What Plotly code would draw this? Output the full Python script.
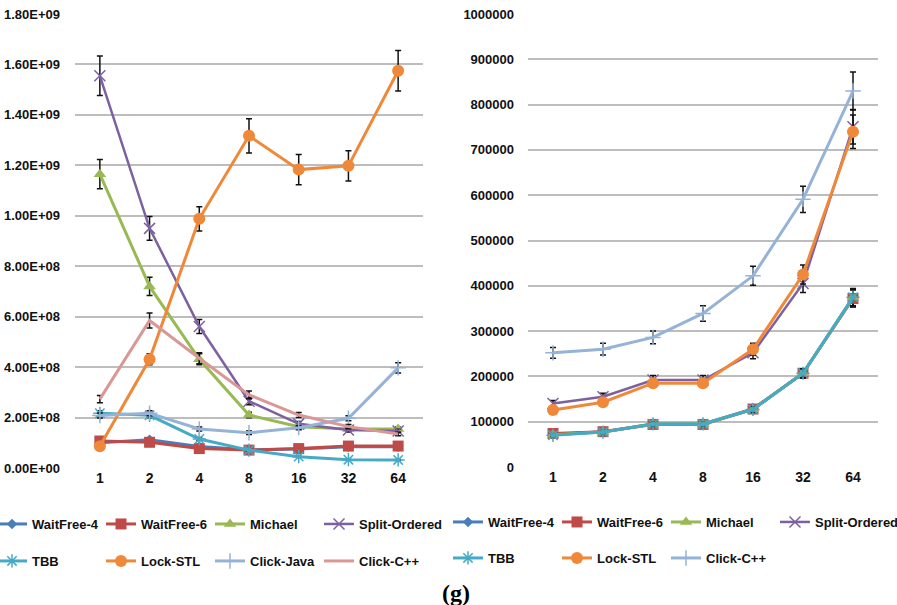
import plotly.graph_objects as go

threads = ["1", "2", "4", "8", "16", "32", "64"]

# ---------- left chart (values) ----------
L_waitfree4 = [1.00e8, 1.12e8, 0.85e8, 0.72e8, 0.75e8, 0.84e8, 0.84e8]
L_waitfree6 = [1.07e8, 1.02e8, 0.77e8, 0.71e8, 0.77e8, 0.87e8, 0.87e8]
L_michael = [11.65e8, 7.20e8, 4.31e8, 2.10e8, 1.64e8, 1.55e8, 1.55e8]
L_split = [15.55e8, 9.50e8, 5.61e8, 2.65e8, 1.75e8, 1.51e8, 1.47e8]
L_tbb = [2.17e8, 2.09e8, 1.15e8, 0.71e8, 0.45e8, 0.33e8, 0.32e8]
L_lock = [0.86e8, 4.31e8, 9.88e8, 13.17e8, 11.83e8, 11.98e8, 15.75e8]
L_clickjava = [2.08e8, 2.17e8, 1.55e8, 1.40e8, 1.60e8, 1.97e8, 3.97e8]
L_clickcpp = [2.73e8, 5.85e8, 4.35e8, 2.90e8, 2.10e8, 1.64e8, 1.35e8]

L_err_waitfree4 = [0.05e8, 0.05e8, 0.04e8, 0.04e8, 0.04e8, 0.04e8, 0.04e8]
L_err_waitfree6 = [0.05e8, 0.05e8, 0.04e8, 0.04e8, 0.04e8, 0.04e8, 0.04e8]
L_err_michael = [0.58e8, 0.36e8, 0.22e8, 0.11e8, 0.08e8, 0.08e8, 0.08e8]
L_err_split = [0.78e8, 0.47e8, 0.28e8, 0.14e8, 0.09e8, 0.08e8, 0.07e8]
L_err_tbb = [0.10e8, 0.10e8, 0.06e8, 0.04e8, 0.02e8, 0.02e8, 0.02e8]
L_err_lock = [0.05e8, 0.22e8, 0.48e8, 0.68e8, 0.60e8, 0.60e8, 0.80e8]
L_err_clickjava = [0.10e8, 0.10e8, 0.08e8, 0.07e8, 0.08e8, 0.10e8, 0.20e8]
L_err_clickcpp = [0.14e8, 0.30e8, 0.22e8, 0.15e8, 0.10e8, 0.08e8, 0.07e8]

L_tickvals = [0, 2e8, 4e8, 6e8, 8e8, 10e8, 12e8, 14e8, 16e8, 18e8]
L_ticktext = ["0.00E+00", "2.00E+08", "4.00E+08", "6.00E+08", "8.00E+08",
              "1.00E+09", "1.20E+09", "1.40E+09", "1.60E+09", "1.80E+09"]

# ---------- right chart (values) ----------
R_waitfree4 = [72000, 78000, 95000, 95000, 128000, 207000, 373000]
R_waitfree6 = [74000, 78000, 94000, 94000, 128000, 207000, 372000]
R_michael = [71000, 77000, 95000, 95000, 127000, 207000, 374000]
R_split = [140000, 155000, 192000, 192000, 252000, 405000, 751000]
R_tbb = [70000, 77000, 95000, 95000, 127000, 207000, 375000]
R_lock = [126000, 143000, 185000, 185000, 260000, 425000, 740000]
R_clickcpp = [252000, 260000, 286000, 339000, 422000, 591000, 830000]

R_err_waitfree4 = [4000, 4000, 5000, 5000, 6000, 10000, 19000]
R_err_waitfree6 = [4000, 4000, 5000, 5000, 6000, 10000, 19000]
R_err_michael = [4000, 4000, 5000, 5000, 6000, 10000, 19000]
R_err_split = [7000, 8000, 10000, 10000, 13000, 20000, 38000]
R_err_tbb = [4000, 4000, 5000, 5000, 6000, 10000, 19000]
R_err_lock = [6000, 7000, 9000, 9000, 13000, 21000, 37000]
R_err_clickcpp = [12000, 13000, 14000, 17000, 21000, 29000, 42000]

R_tickvals = [0, 100000, 200000, 300000, 400000, 500000, 600000, 700000, 800000, 900000, 1000000]

FONT = "Liberation Sans, Arial, sans-serif"

C_WF4 = "#4A7EBB"
C_WF6 = "#BE4B48"
C_MICH = "#98B954"
C_SPLIT = "#7D60A0"
C_TBB = "#46AAC5"
C_LOCK = "#F0883A"
C_CJAVA = "#95B3D7"
C_CCPP = "#D99795"

fig = go.Figure()


def add(x, y, err, name, color, symbol, size, xa, ya, legend, width=3, mode="lines+markers",
        legendwidth=None):
    thin = symbol in ("x-thin", "cross-thin", "asterisk")
    marker = dict(symbol=symbol, size=size, color=color)
    if thin:
        marker["line"] = dict(color=color, width=1.5)
    kw = {}
    if legendwidth is not None:
        kw["legendwidth"] = legendwidth
    fig.add_trace(go.Scatter(
        x=x, y=y, name=name, mode=mode,
        line=dict(color=color, width=width),
        marker=marker,
        error_y=dict(type="data", array=err, visible=True, color="#111111",
                     thickness=1.5, width=3),
        xaxis=xa, yaxis=ya, legend=legend, **kw,
    ))


# left chart
add(threads, L_waitfree4, L_err_waitfree4, "WaitFree-4", C_WF4, "diamond", 8, "x", "y", "legend")
add(threads, L_waitfree6, L_err_waitfree6, "WaitFree-6", C_WF6, "square", 11, "x", "y", "legend")
add(threads, L_michael, L_err_michael, "Michael", C_MICH, "triangle-up", 11, "x", "y", "legend")
add(threads, L_split, L_err_split, "Split-Ordered", C_SPLIT, "x-thin", 11, "x", "y", "legend",
    width=2.5, legendwidth=90)
add(threads, L_tbb, L_err_tbb, "TBB", C_TBB, "asterisk", 11, "x", "y", "legend2")
add(threads, L_lock, L_err_lock, "Lock-STL", C_LOCK, "circle", 12, "x", "y", "legend2")
add(threads, L_clickjava, L_err_clickjava, "Click-Java", C_CJAVA, "cross-thin", 11, "x", "y", "legend2")
add(threads, L_clickcpp, L_err_clickcpp, "Click-C++", C_CCPP, "circle", 1, "x", "y", "legend2",
    mode="lines", legendwidth=90)

# right chart
add(threads, R_waitfree4, R_err_waitfree4, "WaitFree-4", C_WF4, "diamond", 8, "x2", "y2", "legend3")
add(threads, R_waitfree6, R_err_waitfree6, "WaitFree-6", C_WF6, "square", 11, "x2", "y2", "legend3")
add(threads, R_michael, R_err_michael, "Michael", C_MICH, "triangle-up", 11, "x2", "y2", "legend3")
add(threads, R_split, R_err_split, "Split-Ordered", C_SPLIT, "x-thin", 11, "x2", "y2", "legend3",
    width=2.5, legendwidth=90)
add(threads, R_tbb, R_err_tbb, "TBB", C_TBB, "asterisk", 11, "x2", "y2", "legend4")
add(threads, R_lock, R_err_lock, "Lock-STL", C_LOCK, "circle", 12, "x2", "y2", "legend4")
add(threads, R_clickcpp, R_err_clickcpp, "Click-C++", C_CJAVA, "cross-thin", 11, "x2", "y2", "legend4",
    legendwidth=90)

W, H = 897, 605


def px(v):
    return v / W


def py(v):
    return (H - v) / H


tickfont = dict(family=FONT, size=13, color="#111111", weight="bold")
xfont = dict(family=FONT, size=14, color="#111111", weight="bold")
grid = dict(showgrid=True, gridcolor="#BDBDBD", gridwidth=1.5, zeroline=False, showline=False,
            automargin=False)

legend_common = dict(orientation="h", font=dict(family=FONT, size=13, color="#111111", weight="bold"),
                     bgcolor="rgba(0,0,0,0)", borderwidth=0, entrywidth=64,
                     yanchor="middle", tracegroupgap=0, itemwidth=30)

fig.update_layout(
    width=W, height=H,
    margin=dict(l=0, r=0, t=0, b=0, autoexpand=False),
    paper_bgcolor="white", plot_bgcolor="white",
    showlegend=True,
    xaxis=dict(domain=[px(75), px(423)], type="category", range=[-0.5, 6.5],
               tickfont=xfont, showgrid=False, zeroline=False, showline=False, anchor="y",
               automargin=False),
    yaxis=dict(domain=[py(468), py(14)], range=[0, 1.8e9], tickvals=L_tickvals, ticktext=L_ticktext,
               tickfont=tickfont, anchor="x", ticklabelstandoff=14, **grid),
    xaxis2=dict(domain=[px(528), px(878)], type="category", range=[-0.5, 6.5],
                tickfont=xfont, showgrid=False, zeroline=False, showline=False, anchor="y2",
                automargin=False),
    yaxis2=dict(domain=[py(467), py(14)], range=[0, 1000000], tickvals=R_tickvals,
                tickformat="d", tickfont=tickfont, anchor="x2", ticklabelstandoff=13, **grid),
    legend=dict(x=px(454), xanchor="right", y=py(524), **legend_common),
    legend2=dict(x=px(454), xanchor="right", y=py(561), **legend_common),
    legend3=dict(x=px(448), xanchor="left", y=py(522), **legend_common),
    legend4=dict(x=px(448), xanchor="left", y=py(558), **legend_common),
    annotations=[dict(text="(g)", x=px(456), y=py(593), xref="paper", yref="paper",
                      showarrow=False, xanchor="center", yanchor="middle",
                      font=dict(family="Liberation Serif, Times New Roman, serif", size=24,
                                color="#000000", weight="bold"))],
)

fig.write_html("out.html")
